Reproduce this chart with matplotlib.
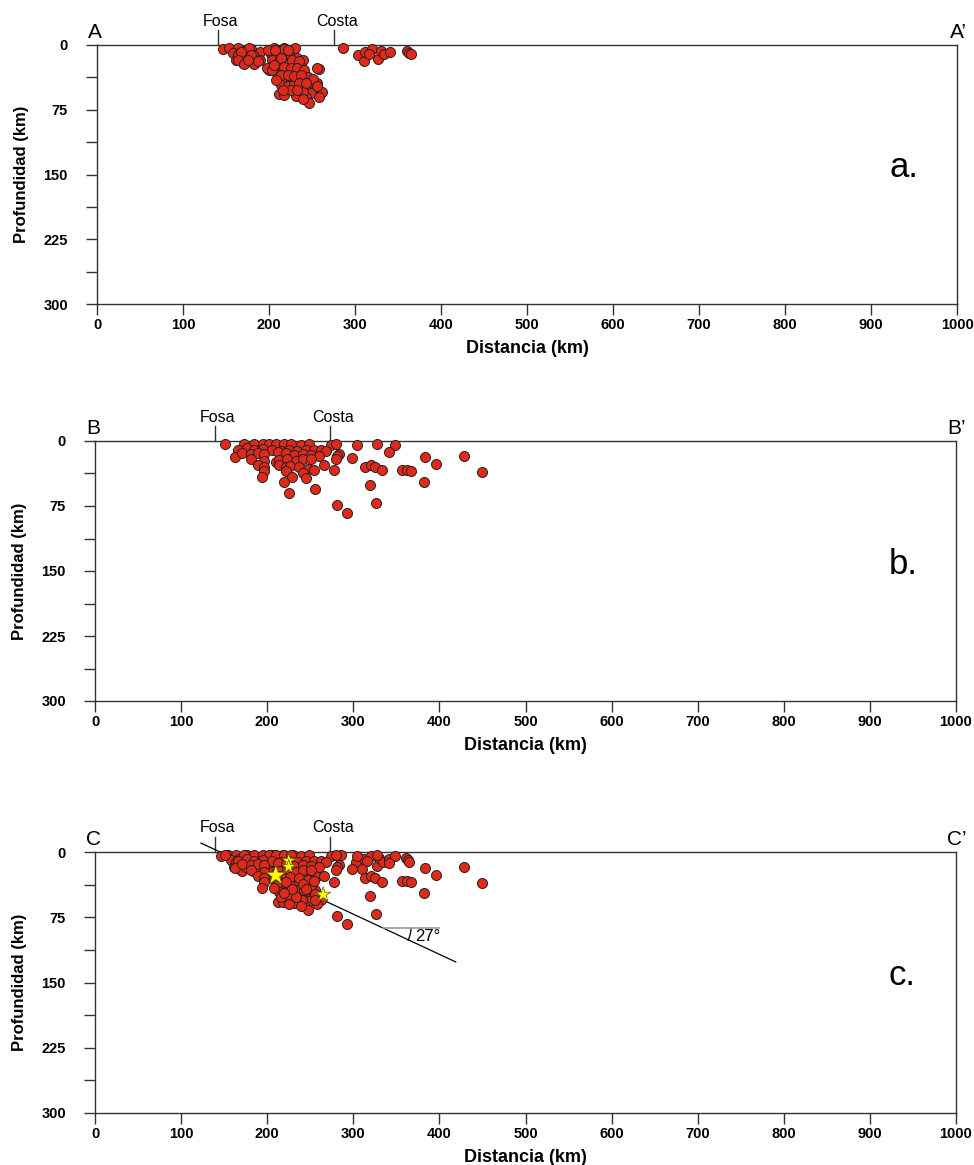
import matplotlib
matplotlib.use("Agg")
import matplotlib.pyplot as plt
from matplotlib.patches import Arc

plt.rcParams['font.family'] = ['Liberation Sans', 'DejaVu Sans']

# seismicity, profile A-A' (distance km, depth km)
a_dist = [146, 154, 164, 158, 166, 173, 179, 162, 170, 175, 183, 189, 189, 181, 172,
          164, 171, 177, 179, 167, 164, 171, 183, 187, 175,
          206, 218, 230, 202, 210, 218, 225, 233, 239, 204, 212, 222, 229, 237,
          202, 200, 208, 216, 224, 231, 241, 258, 210, 218, 225, 233, 241, 249,
          256, 214, 222, 229, 237, 245, 253, 241, 249, 262, 212, 218, 231, 243,
          258, 247, 240, 256, 208, 218, 198, 204,
          199, 207, 222, 214, 227, 235, 206, 218, 225, 233, 241, 245, 251, 214,
          222, 229, 237, 208, 235, 243, 225, 233, 216, 256, 239,
          286, 303, 310, 312, 320, 316, 327, 330, 334, 341, 361, 363, 365]
a_depth = [4.6, 4, 3, 9, 9, 6, 5, 17, 21, 15, 21, 8, 17, 12, 12,
           12, 8, 4, 12, 8, 17, 22, 22, 18, 17,
           4, 3, 3, 10, 10, 12, 13.5, 15, 17, 17, 19, 21, 22, 25,
           25, 29, 31, 29, 31, 31, 35, 28, 41, 39, 41, 39, 42, 41,
           44, 46, 47.5, 46, 48, 48, 52, 54, 56, 55, 57, 58, 59, 60.6,
           60, 67, 55, 27, 6, 5, 27, 29,
           6, 6, 6, 15, 17, 19, 23, 25, 27, 27, 29, 37, 39, 35,
           35, 36, 35, 41, 44, 44, 52, 52, 52, 48, 62,
           4, 12, 19, 8, 5, 10, 16, 7, 11, 8, 7, 9, 11]

# seismicity, profile B-B'
b_dist = [151, 173, 185, 195, 202, 210, 220, 228, 239, 249, 274, 280, 304, 328, 349,
          166, 177, 185, 195, 206, 216, 225, 235, 245, 254, 262, 268,
          163, 171, 181, 189, 196, 212, 222, 231, 241, 251, 260, 283, 281,
          181, 196, 210, 214, 223, 233, 241, 251, 280, 298, 341, 383, 428, 396,
          189, 196, 214, 222, 227, 237, 247, 254, 266,
          196, 222, 241, 278, 314, 320, 325, 333, 357, 362, 367, 449,
          194, 229, 245, 220, 382, 225, 255, 319, 281, 326, 293]
b_depth = [3, 3, 3, 3, 3, 3, 3, 3, 4.5, 3, 4.5, 3.5, 4.5, 4, 5,
           10, 8, 10, 9, 10, 12, 10, 12, 10, 10, 10, 11,
           18, 14, 15, 14, 15, 13, 14, 16, 15, 16, 17, 15, 17,
           21, 23, 24, 22, 21, 23, 21, 21, 21, 20, 13, 18, 17, 26,
           28, 30, 28, 30, 29, 30, 32, 33, 28,
           35, 35, 37, 34, 30, 28, 30, 34, 33, 33, 35, 36,
           41, 42, 43, 47, 47, 60, 55, 51, 74, 71, 83]

# larger events marked with stars in profile C-C'
star_dist = [225, 225, 210, 265]
star_depth = [10, 17, 27, 49]

x_ticks = list(range(0, 1001, 100))
y_ticks = [0, 75, 150, 225, 300]
y_minor = [37.5, 112.5, 187.5, 262.5]

RED = '#e0291b'
W, H = 974, 1165


def px_axes(fig, left, top, right, bottom):
    """Axes placed by pixel edges"""
    return fig.add_axes([left / W, 1 - bottom / H, (right - left) / W, (bottom - top) / H])


def style_section(ax, start, end, letter, fosa, costa):
    ax.set_xlim(0, 1000)
    ax.set_ylim(300, 0)
    ax.set_xticks(x_ticks)
    ax.set_yticks(y_ticks)
    ax.set_yticks(y_minor, minor=True)
    ax.tick_params(which='both', direction='out', length=8, width=1.0, color='#333333')
    ax.tick_params(axis='x', pad=2, labelsize=10.5)
    ax.tick_params(axis='y', pad=13, labelsize=10.5)
    for lab in ax.get_xticklabels() + ax.get_yticklabels():
        lab.set_fontweight('bold')
    for sp in ax.spines.values():
        sp.set_linewidth(1.0)
        sp.set_color('#333333')
    ax.set_xlabel('Distancia (km)', fontsize=13, fontweight='bold', labelpad=6)
    ax.set_ylabel('Profundidad (km)', fontsize=12, fontweight='bold', labelpad=10)

    # profile ends
    tr = ax.get_xaxis_transform()
    ax.text(-10, 1.01, start, transform=tr, fontsize=15, ha='left', va='bottom')
    ax.text(1012, 1.01, end, transform=tr, fontsize=15, ha='right', va='bottom')
    ax.text(0.922, 0.49, letter, transform=ax.transAxes, fontsize=25, ha='left', va='baseline')

    # trench and coastline marks above the section
    for x, name in [(fosa, 'Fosa'), (costa, 'Costa')]:
        ax.plot([x, x], [0, -17], color='#333333', lw=1.0, clip_on=False)
        ax.text(x + 3, -19, name, fontsize=11.5, ha='center', va='bottom')


fig = plt.figure(figsize=(W / 100, H / 100), dpi=100)

ax_a = px_axes(fig, 97, 45, 957, 304)
ax_b = px_axes(fig, 95, 441, 956, 701)
ax_c = px_axes(fig, 95, 852, 956, 1113)

style_section(ax_a, 'A', 'A\u2019', 'a.', 141, 276)
style_section(ax_b, 'B', 'B\u2019', 'b.', 139, 273)
style_section(ax_c, 'C', 'C\u2019', 'c.', 139, 273)

dot = dict(s=52, c=RED, edgecolors='#222222', linewidths=0.7, zorder=3, clip_on=False)
ax_a.scatter(a_dist, a_depth, **dot)
ax_b.scatter(b_dist, b_depth, **dot)
ax_c.scatter(a_dist + b_dist, a_depth + b_depth, **dot)

# stars: the big one is the main shock
ax_c.scatter(star_dist, star_depth, s=[110, 110, 230, 130], marker='*', c='#ffff00',
             edgecolors='#555500', linewidths=0.5, zorder=4)

# slab dip line with angle
ax_c.plot([123, 419], [-10.3, 126.4], color='black', lw=0.9, clip_on=False, zorder=2)
ax_c.plot([334, 400], [87, 87], color='#999999', lw=1.2, zorder=2)
ax_c.add_patch(Arc((334, 87), 66, 66, theta1=0, theta2=27, color='black', lw=0.9))
ax_c.text(372, 89, '27\u00b0', fontsize=12, ha='left', va='top')

fig.savefig('out.png', dpi=100)
